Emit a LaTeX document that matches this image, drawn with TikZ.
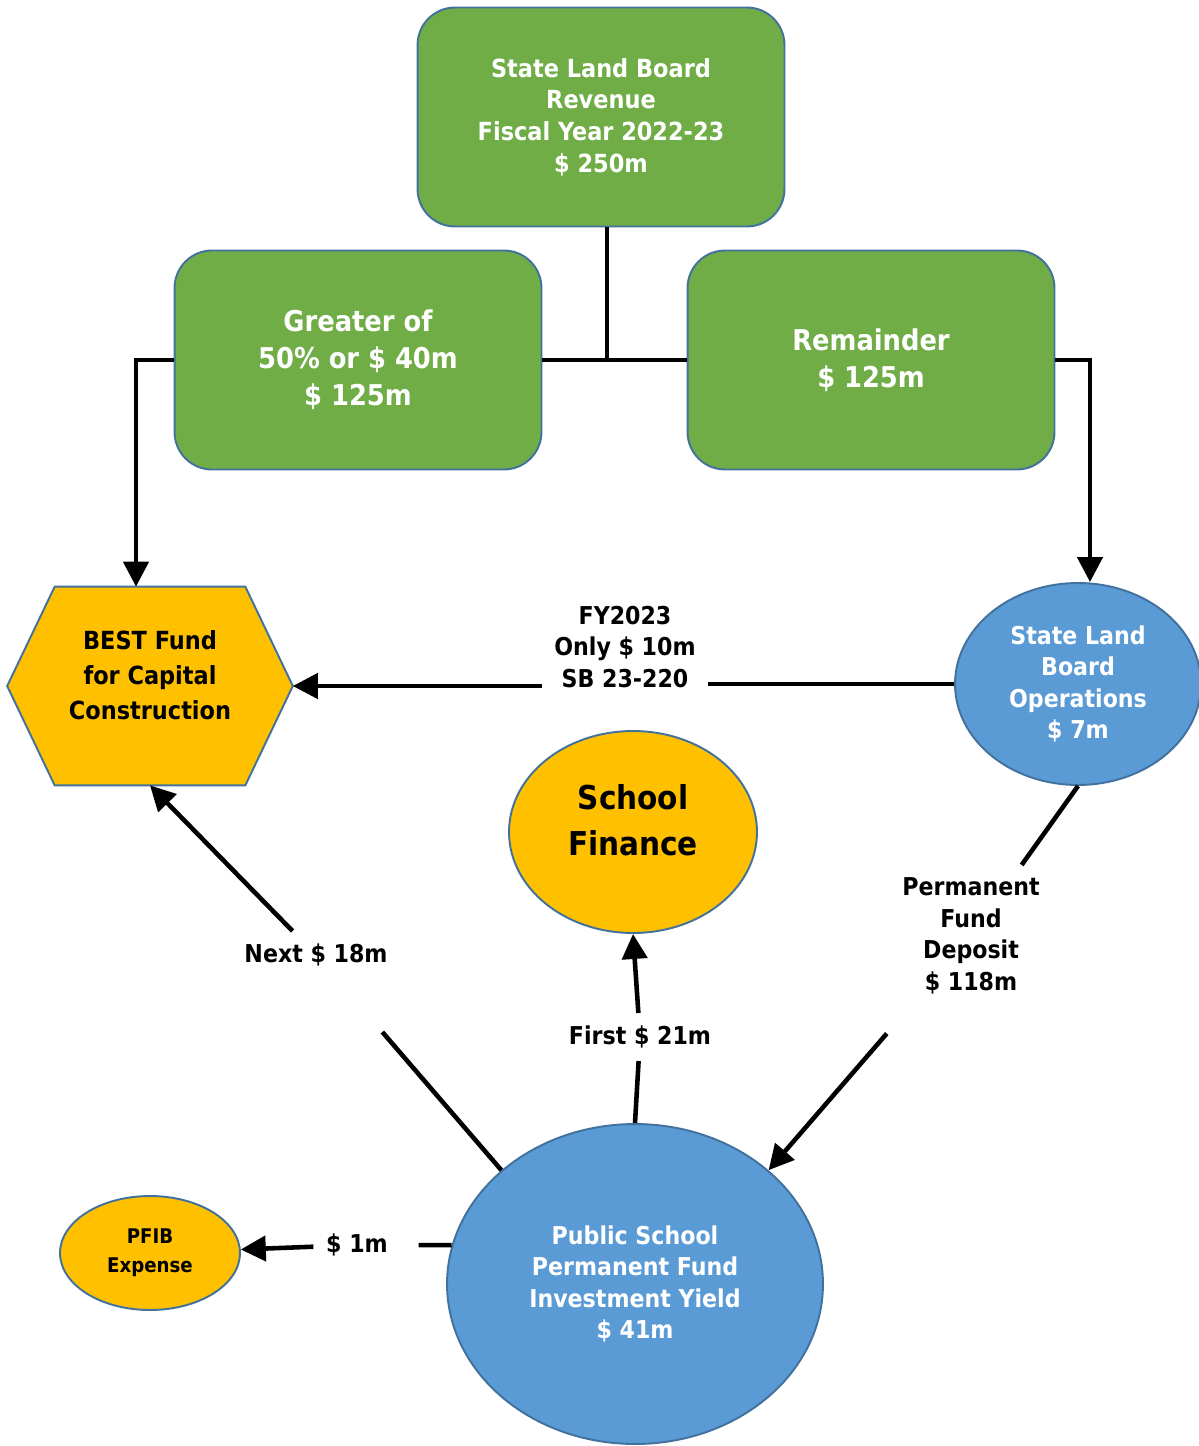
\documentclass[tikz,border=0pt]{standalone}
\usepackage{fontspec}
\setmainfont{DejaVu Sans Condensed}
\usetikzlibrary{shapes.geometric,arrows.meta,backgrounds}
\definecolor{boardgreen}{HTML}{70AD47}
\definecolor{rimblue}{HTML}{41719C}
\definecolor{poolblue}{HTML}{5B9BD5}
\definecolor{fundgold}{HTML}{FFC000}
\newcommand{\boldsize}[2]{\bfseries\fontsize{#1}{#2}\selectfont}
\tikzset{
  greenbox/.style={draw=rimblue, line width=1.1pt, fill=boardgreen, rounded corners=0.75cm,
    text=white, align=center, minimum width=7.34cm, minimum height=4.38cm},
  bluepool/.style={ellipse, draw=rimblue, line width=1.1pt, fill=poolblue, text=white,
    align=center, inner sep=0pt, font=\boldsize{14}{18}},
  goldpool/.style={ellipse, draw=rimblue, line width=1.1pt, fill=fundgold, align=center, inner sep=0pt},
  amount/.style={align=center, inner sep=0.25cm, font=\boldsize{14}{18}},
  wire/.style={line width=2.6pt},
  flow/.style={wire, -{Triangle[length=0.5cm,width=0.5cm]}}
}
\begin{document}
\begin{tikzpicture}[x=0.02cm, y=-0.02cm]
  \useasboundingbox (0,0) rectangle (1199,1446);
  \node[greenbox, font=\boldsize{14.2}{18}] (slbrev) at (601,117)
    {State Land Board\\Revenue\\Fiscal Year 2022-23\\\$ 250m};
  \node[greenbox, font=\boldsize{16.3}{21}] (greater) at (358,360)
    {Greater of\\50\% or \$ 40m\\\$ 125m};
  \node[greenbox, font=\boldsize{16.3}{21}] (remainder) at (871,360)
    {Remainder\\\$ 125m};
  \node[align=center, inner sep=0pt, minimum width=5.7cm, minimum height=3.96cm,
    text depth=0.44cm, font=\boldsize{14.2}{20}] (best) at (150,686)
    {BEST Fund\\for Capital\\Construction};
  \begin{scope}[on background layer]
    \draw[draw=rimblue, line width=1.1pt, fill=fundgold]
      ([xshift=0.95cm]best.north west) -- ([xshift=-0.95cm]best.north east) -- (best.east)
      -- ([xshift=-0.95cm]best.south east) -- ([xshift=0.95cm]best.south west) -- (best.west) -- cycle;
  \end{scope}
  \node[bluepool, minimum width=4.92cm, minimum height=4.04cm] (slbops) at (1078,684)
    {State Land\\Board\\Operations\\\$ 7m};
  \node[goldpool, minimum width=4.96cm, minimum height=4.04cm, text depth=0.48cm,
    font=\boldsize{18.7}{26}] (schoolfin) at (633,832)
    {School\\Finance};
  \node[bluepool, minimum width=7.52cm, minimum height=6.4cm] (pspf) at (635,1284)
    {Public School\\Permanent Fund\\Investment Yield\\\$ 41m};
  \node[goldpool, minimum width=3.6cm, minimum height=2.28cm, font=\boldsize{11.5}{16.4}] (pfib) at (150,1253)
    {PFIB\\Expense};
  \node[amount] (fylbl) at (625,647) {FY2023\\Only \$ 10m\\SB 23-220};
  \node[amount] (lbl21) at (640,1037) {First \$ 21m};
  \node[amount] (lbl18) at (316,955) {Next \$ 18m};
  \node[amount] (lbl118) at (971,936) {Permanent\\Fund\\Deposit\\\$ 118m};
  \node[amount] (lbl1) at (357,1245) {\$ 1m};
  \draw[wire] ([xshift=0.12cm]slbrev.south) -- ([xshift=0.12cm]slbrev.south |- greater.east);
  \draw[wire] (greater.east) -- (remainder.west);
  \draw[flow] (greater.west) -| ([xshift=-0.28cm]best.north);
  \draw[flow] (remainder.east) -| ([xshift=0.24cm]slbops.north);
  \draw[wire] (slbops.west) -- (slbops.west -| fylbl.east);
  \draw[flow] (best.east -| fylbl.west) -- (best.east);
  \draw[wire] (pspf.north) -- (lbl21);
  \draw[flow] (lbl21) -- (schoolfin.south);
  \draw[wire, shorten >=1.4cm] (pspf.north west) -- (lbl18);
  \draw[flow] (lbl18) -- (best.south);
  \draw[wire] (slbops.south) -- (lbl118);
  \draw[flow, shorten <=0.7cm] (lbl118) -- (pspf.north east);
  \draw[wire, shorten >=0.36cm] (pspf.168) -- (lbl1);
  \draw[flow] (lbl1) -- (pfib);
\end{tikzpicture}
\end{document}
